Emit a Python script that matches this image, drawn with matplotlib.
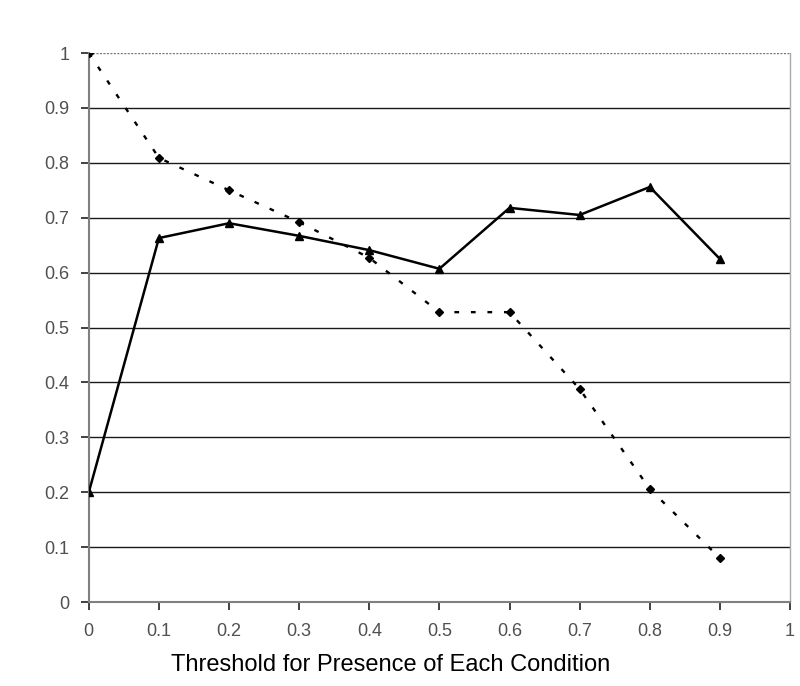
import numpy as np
import matplotlib
matplotlib.use('Agg')
import matplotlib.pyplot as plt

# threshold values and the two curves
thresholds = [0, 0.1, 0.2, 0.3, 0.4, 0.5, 0.6, 0.7, 0.8, 0.9]
solid_vals = [0.20, 0.663, 0.690, 0.667, 0.641, 0.607, 0.718, 0.705, 0.756, 0.625]
dotted_vals = [1.0, 0.809, 0.750, 0.692, 0.627, 0.528, 0.528, 0.388, 0.206, 0.080]
xticks = [0, 0.1, 0.2, 0.3, 0.4, 0.5, 0.6, 0.7, 0.8, 0.9, 1]
yticks = [0, 0.1, 0.2, 0.3, 0.4, 0.5, 0.6, 0.7, 0.8, 0.9, 1]
ticklabels = ['0', '0.1', '0.2', '0.3', '0.4', '0.5', '0.6', '0.7', '0.8', '0.9', '1']

plt.rcParams['font.family'] = ['Liberation Sans', 'DejaVu Sans']

fig = plt.figure(figsize=(8, 6.86), dpi=100)
ax = fig.add_axes([0.111, 0.1224, 0.8765, 0.8003])

# horizontal gridlines (top one is dotted like the border)
for y in yticks[1:-1]:
    ax.axhline(y, color='#1a1a1a', lw=1.0, zorder=1)
ax.axhline(1, color='#777777', lw=1.0, ls=(0, (1.5, 1)), zorder=1)

ax.plot(thresholds, dotted_vals, color='black', lw=1.7, ls=(0, (2, 5)),
        marker='D', markersize=4.5, zorder=3)
ax.plot(thresholds, solid_vals, color='black', lw=1.8, ls='-',
        marker='^', markersize=5.5, zorder=3)

ax.set_xlim(0, 1)
ax.set_ylim(0, 1)
ax.set_xticks(xticks)
ax.set_yticks(yticks)
ax.set_xticklabels(ticklabels)
ax.set_yticklabels(ticklabels)
ax.tick_params(axis='both', direction='out', length=6, width=1.3, color='#333333',
               labelsize=13, labelcolor='#505050')
ax.tick_params(axis='x', pad=9)
ax.tick_params(axis='y', pad=8)

ax.spines['left'].set_color('#808080')
ax.spines['left'].set_linewidth(1.5)
ax.spines['bottom'].set_color('#808080')
ax.spines['bottom'].set_linewidth(1.5)
ax.spines['top'].set_visible(False)
ax.spines['right'].set_color('#aaaaaa')
ax.spines['right'].set_linestyle((0, (1.5, 1)))
ax.spines['right'].set_linewidth(1.0)

ax.set_xlabel('Threshold for Presence of Each Condition', fontsize=17,
              color='black', labelpad=8)
ax.xaxis.set_label_coords(0.431, -0.095)

fig.savefig('out.png', dpi=100)
